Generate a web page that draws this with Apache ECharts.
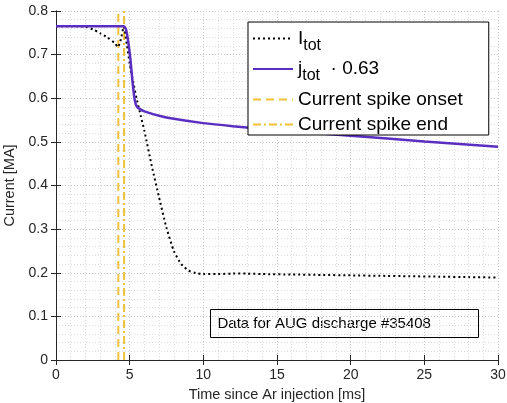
<!DOCTYPE html>
<html lang="en">

<head>
    <meta charset="UTF-8">
    <title>Current</title>
    <script src="https://cdn.jsdelivr.net/npm/echarts@6/dist/echarts.min.js"></script>
    <style>
        html, body { margin: 0; padding: 0; background: #fff; }
        #main { width: 507px; height: 403px; }
    </style>
</head>

<body>
    <div id="main"></div>
    <script>
        // I_tot (black dotted)
        var itotT = [0, 1, 2, 2.5, 3, 3.5, 4, 4.2, 4.4, 4.6, 4.8, 5.0, 5.25, 5.5, 5.75, 6, 6.5, 7, 7.5, 8, 8.5, 9, 9.5, 10, 11, 12, 13, 14, 16, 18, 20, 22, 24, 26, 28, 30];
        var itotV = [0.765, 0.765, 0.764, 0.758, 0.749, 0.739, 0.726, 0.717, 0.735, 0.764, 0.725, 0.68, 0.635, 0.595, 0.56, 0.525, 0.445, 0.372, 0.303, 0.25, 0.22, 0.205, 0.199, 0.197, 0.197, 0.198, 0.198, 0.197, 0.196, 0.195, 0.194, 0.193, 0.192, 0.191, 0.19, 0.189];

        // j_tot * 0.63 (purple)
        var jtotT = [0, 2, 4, 4.6, 4.75, 4.9, 5.05, 5.2, 5.35, 5.5, 5.7, 6, 7, 8, 10, 12, 15, 20, 25, 30];
        var jtotV = [0.765, 0.765, 0.765, 0.765, 0.758, 0.73, 0.69, 0.635, 0.595, 0.58, 0.575, 0.57, 0.56, 0.553, 0.543, 0.536, 0.527, 0.514, 0.501, 0.489];

        // spike markers
        var spikeOnset = 4.23;
        var spikeEnd = 4.62;

        var xTicks = [0, 5, 10, 15, 20, 25, 30];
        var yTicks = [0, 0.1, 0.2, 0.3, 0.4, 0.5, 0.6, 0.7, 0.8];

        function pairs(t, v) {
            var out = [];
            for (var i = 0; i < t.length; i++) {
                out.push([t[i], v[i]]);
            }
            return out;
        }

        var font = 'Liberation Sans';
        var axisCol = '#262626';
        var spikeCol = '#f0c23e';

        var myChart = echarts.init(document.getElementById('main'));

        var gridLine = { show: true, lineStyle: { color: '#c8c8c8', type: [1, 2], width: 1 } };
        var minorLine = { show: true, lineStyle: { color: '#dcdcdc', type: [1, 2], width: 1 } };

        var option = {
            animation: false,
            backgroundColor: '#fff',
            textStyle: { fontFamily: font },
            grid: { left: 56, right: 9, top: 11, bottom: 43, containLabel: false, outerBoundsMode: 'none' },
            legend: {
                orient: 'vertical',
                left: 248,
                top: 22,
                z: 20,
                padding: [7, 26, 1, 4],
                itemWidth: 40,
                itemHeight: 14,
                itemGap: 6,
                borderColor: '#000',
                borderWidth: 1,
                backgroundColor: '#fff',
                itemStyle: { opacity: 0 },
                data: ['itot', 'jtot', 'onset', 'end'],
                formatter: function (name) {
                    if (name === 'itot') return '{n|I}{s|tot}';
                    if (name === 'jtot') return '{n|j}{s|tot}{n|  · 0.63}';
                    if (name === 'onset') return '{n|Current spike onset}';
                    return '{n|Current spike end}';
                },
                textStyle: {
                    fontFamily: font,
                    rich: {
                        n: { fontSize: 19, color: '#000', fontFamily: font },
                        s: { fontSize: 16, color: '#000', fontFamily: font, padding: [14, 0, 0, 0] }
                    }
                }
            },
            xAxis: [{
                type: 'value',
                min: 0, max: 30, interval: 5,
                name: 'Time since Ar injection [ms]',
                nameLocation: 'middle',
                nameGap: 27,
                nameTextStyle: { fontSize: 14.5, color: axisCol, fontFamily: font },
                axisLine: { show: true, onZero: false, lineStyle: { color: axisCol, width: 1 } },
                axisTick: { show: true, inside: true, length: 5, lineStyle: { color: axisCol } },
                axisLabel: { fontSize: 14, color: axisCol, margin: 8, fontFamily: font },
                splitLine: gridLine,
                minorTick: { show: false, splitNumber: 5 },
                minorSplitLine: minorLine
            }, {
                type: 'value',
                position: 'top',
                min: 0, max: 30, interval: 5,
                axisLine: { show: true, lineStyle: { color: axisCol, width: 1 } },
                axisTick: { show: true, inside: true, length: 5, lineStyle: { color: axisCol } },
                axisLabel: { show: false },
                splitLine: { show: false }
            }],
            yAxis: [{
                type: 'value',
                min: 0, max: 0.8, interval: 0.1,
                name: 'Current [MA]',
                nameLocation: 'middle',
                nameGap: 32,
                nameTextStyle: { fontSize: 14.5, color: axisCol, fontFamily: font },
                axisLine: { show: true, onZero: false, lineStyle: { color: axisCol, width: 1 } },
                axisTick: { show: true, inside: true, length: 5, lineStyle: { color: axisCol } },
                axisLabel: {
                    fontSize: 14, color: axisCol, margin: 8, fontFamily: font,
                    formatter: function (v) { return v === 0 ? '0' : v.toFixed(1); }
                },
                splitLine: gridLine,
                minorTick: { show: false, splitNumber: 5 },
                minorSplitLine: minorLine
            }, {
                type: 'value',
                position: 'right',
                min: 0, max: 0.8, interval: 0.1,
                axisLine: { show: true, lineStyle: { color: axisCol, width: 1 } },
                axisTick: { show: true, inside: true, length: 5, lineStyle: { color: axisCol } },
                axisLabel: { show: false },
                splitLine: { show: false }
            }],
            series: [
                {
                    name: 'onset',
                    type: 'line',
                    symbol: 'none',
                    color: spikeCol,
                    lineStyle: { color: spikeCol, width: 2, type: [8, 5] },
                    data: [[spikeOnset, 0], [spikeOnset, 0.8]]
                },
                {
                    name: 'end',
                    type: 'line',
                    symbol: 'none',
                    color: spikeCol,
                    lineStyle: { color: spikeCol, width: 2, type: [8, 3, 2, 3] },
                    data: [[spikeEnd, 0], [spikeEnd, 0.8]]
                },
                {
                    name: 'itot',
                    type: 'line',
                    symbol: 'none',
                    color: '#000',
                    smooth: 0.2,
                    lineStyle: { color: '#000', width: 2, type: [2, 3] },
                    data: pairs(itotT, itotV),
                    z: 3
                },
                {
                    name: 'jtot',
                    type: 'line',
                    symbol: 'none',
                    color: '#5a2ec0',
                    smooth: 0.2,
                    lineStyle: { color: '#5a2ec0', width: 2.5 },
                    data: pairs(jtotT, jtotV),
                    z: 4
                }
            ],
            graphic: [{
                type: 'group',
                left: 210,
                top: 309,
                children: [{
                    type: 'rect',
                    shape: { x: 0, y: 0, width: 268, height: 28 },
                    style: { fill: '#fff', stroke: '#000', lineWidth: 1 }
                }, {
                    type: 'text',
                    x: 7,
                    y: 14,
                    style: {
                        text: 'Data for AUG discharge #35408',
                        font: '15px "Liberation Sans"',
                        fill: '#000',
                        verticalAlign: 'middle'
                    }
                }]
            }]
        };

        myChart.setOption(option);
    </script>
</body>

</html>
